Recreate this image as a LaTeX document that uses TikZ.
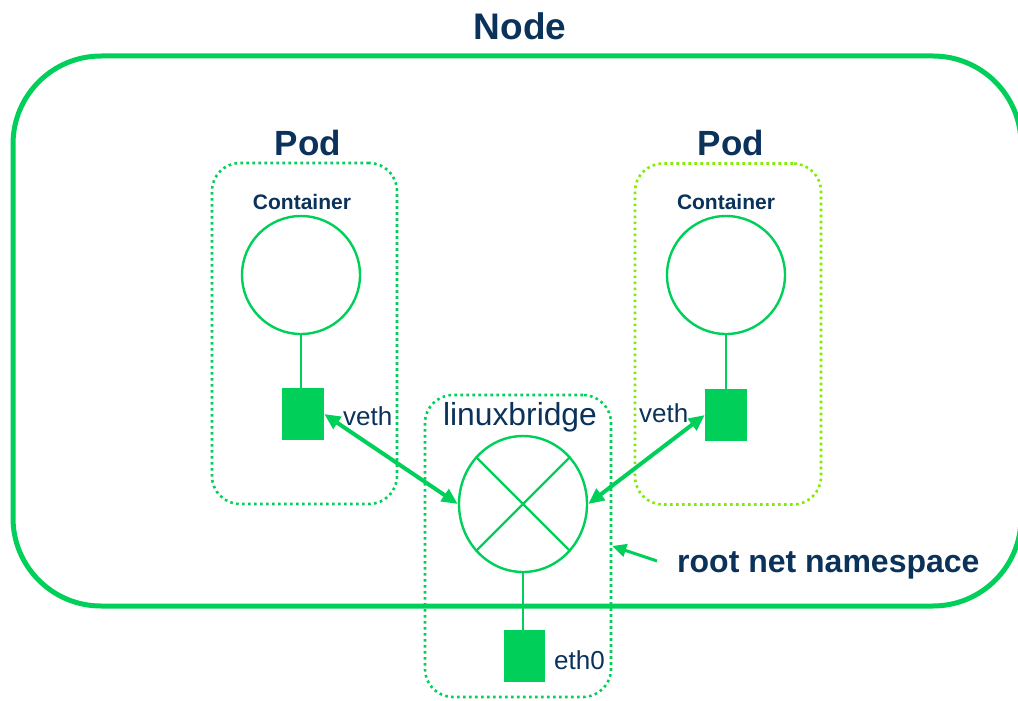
\documentclass[tikz,border=0pt]{standalone}
\usepackage{fontspec}
\setmainfont{Liberation Sans}
\usetikzlibrary{arrows.meta,shapes.geometric}
\definecolor{kgreen}{RGB}{0,208,90}
\definecolor{klime}{RGB}{128,236,0}
\definecolor{knavy}{RGB}{10,50,90}
\begin{document}
\begin{tikzpicture}[x=1pt,y=-1pt,
  lbl/.style={text=knavy, inner sep=0pt, anchor=base},
  dotbox/.style={draw=#1, line width=2.6pt, dash pattern=on 2.6pt off 3.4pt,
    rounded corners=28pt, inner sep=0pt},
  ctr/.style={circle, draw=kgreen, line width=2.4pt, inner sep=0pt, minimum size=118pt},
  port/.style={rectangle, fill=kgreen, inner sep=0pt, minimum width=42pt, minimum height=52pt},
  wire/.style={draw=kgreen, line width=2.4pt},
  link/.style={draw=kgreen, line width=4pt, {Triangle[length=16pt,width=14pt]}-{Triangle[length=16pt,width=14pt]}},
  hint/.style={draw=kgreen, line width=3pt, -{Triangle[length=14pt,width=13pt]}}
]
\useasboundingbox (0,0) rectangle (1018,701);

% host frame
\draw[draw=kgreen, line width=5pt, rounded corners=88pt] (13,56) rectangle (1021,606);
\node[lbl, font=\bfseries\fontsize{37}{40}\selectfont] (nodelbl) at (520,40) {Node};

% pods
\node[dotbox=kgreen, minimum width=185pt, minimum height=341pt] (pod1) at (304.5,333.5) {};
\node[dotbox=klime, minimum width=186pt, minimum height=341pt] (pod2) at (728,334) {};
\node[lbl, font=\bfseries\fontsize{35}{40}\selectfont] (pod1lbl) at (308,155) {Pod};
\node[lbl, font=\bfseries\fontsize{35}{40}\selectfont] (pod2lbl) at (731,155) {Pod};
\node[lbl, font=\bfseries\fontsize{21}{24}\selectfont] (c1lbl) at (302,209) {Container};
\node[lbl, font=\bfseries\fontsize{21}{24}\selectfont] (c2lbl) at (726,209) {Container};

% containers and their veth ends
\node[ctr] (c1) at (301,275) {};
\node[ctr] (c2) at (726,275) {};
\node[port] (s1) at (303,414) {};
\node[port] (s2) at (726,415) {};
\draw[wire] (c1.south) -- (c1.south |- s1.north);
\draw[wire] (c2.south) -- (s2.north);
\node[lbl, anchor=base west, font=\fontsize{26}{30}\selectfont] (v1lbl) at (343,425) {veth};
\node[lbl, anchor=base west, font=\fontsize{26}{30}\selectfont] (v2lbl) at (639,422) {veth};

% bridge in the root namespace
\node[dotbox=kgreen, minimum width=186pt, minimum height=302pt] (brbox) at (518,546) {};
\node[lbl, font=\fontsize{31.8}{36}\selectfont] (brlbl) at (520,425) {linuxbridge};
\node[ellipse, draw=kgreen, line width=2.4pt, inner sep=0pt,
      minimum width=128pt, minimum height=136pt] (br) at (523,504) {};
\draw[wire] (br.45) -- (br.225);
\draw[wire] (br.135) -- (br.315);
\node[port, minimum width=41pt] (s3) at (524.5,656) {};
\draw[wire] (br.south) -- (br.south |- s3.north);
\node[lbl, anchor=base west, font=\fontsize{26}{30}\selectfont] (e0lbl) at (554,669) {eth0};

% veth pairs
\draw[link] (s1.east) -- (br.west);
\draw[link] (s2.west) -- (br.east);

% namespace callout
\node[lbl, anchor=base west, font=\bfseries\fontsize{32}{36}\selectfont] (nslbl) at (677,572) {root net namespace};
\coordinate (nsptr) at (657,561);
\draw[hint] (nsptr) -- (brbox.east);
\end{tikzpicture}
\end{document}
